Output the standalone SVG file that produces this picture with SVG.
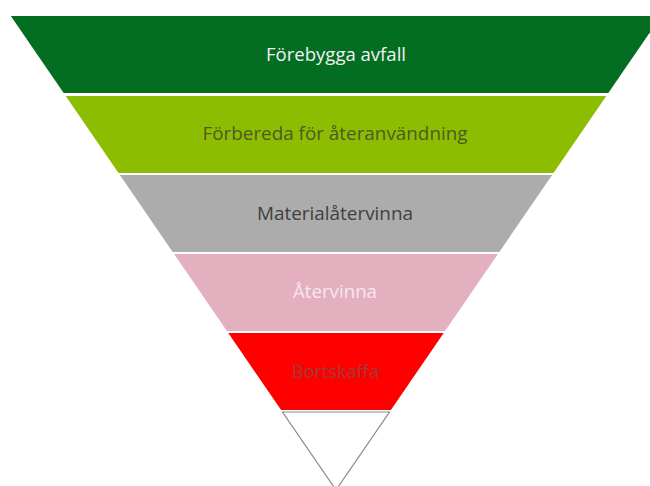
<svg xmlns="http://www.w3.org/2000/svg" width="650" height="486" viewBox="0 0 650 486">
<style>
text{font-family:"Open Sans","Liberation Sans",sans-serif;font-size:19px;text-anchor:middle}
</style>
<rect width="650" height="486" fill="#ffffff"/>
<g id="level1"><polygon points="10.8,16 661.2,16 608.3,93 63.7,93" fill="#036d21"/><text x="336" y="61" fill="#f2f2f2" textLength="140" lengthAdjust="spacingAndGlyphs">Förebygga avfall</text></g>
<g id="level2"><polygon points="65.7,96 606.3,96 553.5,173 118.5,173" fill="#8dbd00"/><text x="335" y="140" fill="#4d5a26" textLength="265" lengthAdjust="spacingAndGlyphs">Förbereda för återanvändning</text></g>
<g id="level3"><polygon points="119.9,175 552.1,175 499.3,252 172.7,252" fill="#acacac"/><text x="335" y="220" fill="#404040" textLength="156" lengthAdjust="spacingAndGlyphs">Materialåtervinna</text></g>
<g id="level4"><polygon points="174.1,254 497.9,254 445.1,331 226.9,331" fill="#e4b0c0"/><text x="335" y="298" fill="#f6e6ee" textLength="84" lengthAdjust="spacingAndGlyphs">Återvinna</text></g>
<g id="level5"><polygon points="228.3,333 443.7,333 390.9,410 281.1,410" fill="#ff0000"/><text x="335.5" y="378" fill="#a43a3a" textLength="87" lengthAdjust="spacingAndGlyphs">Bortskaffa</text></g>
<g id="level6"><polygon points="282.5,412 389.5,412 336,490" fill="#ffffff" stroke="#8c8c8c" stroke-width="1.2"/></g>
<g id="connectors"></g>
</svg>
